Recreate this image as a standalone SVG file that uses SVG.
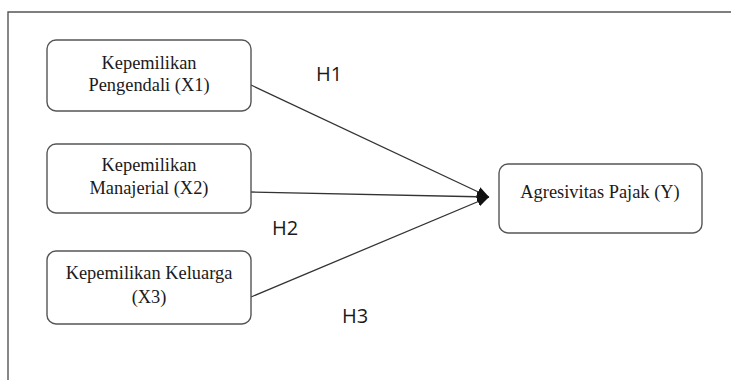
<svg xmlns="http://www.w3.org/2000/svg" width="731" height="380" viewBox="0 0 731 380">
<defs>
<style>
.box{fill:#fff;stroke:#555;stroke-width:1.4}
.t{font-family:"Liberation Serif","Times New Roman",serif;font-size:18.4px;fill:#1a1a1a;text-anchor:middle}
.h{font-family:"Open Sans","Liberation Sans",sans-serif;font-size:20px;fill:#1a1a1a}
.c{stroke:#333;stroke-width:1.3;fill:none;marker-end:url(#ah)}
.frame{stroke:#555;stroke-width:1.4;fill:none}
</style>
<marker id="ah" markerWidth="12" markerHeight="10" refX="12" refY="5" orient="auto" markerUnits="userSpaceOnUse">
<path d="M0,0 L12,5 L0,10 Z" fill="#111"/>
</marker>
</defs>
<rect width="731" height="380" fill="#fff"/>
<path class="frame" d="M8,380 L8,12 L731,12"/>
<g id="connectors">
<line class="c" x1="251" y1="85" x2="489" y2="197"/>
<line class="c" x1="251" y1="192" x2="489" y2="197"/>
<line class="c" x1="251" y1="297" x2="489" y2="197"/>
</g>
<g id="x1">
<rect class="box" x="47" y="40" width="204" height="71" rx="9"/>
<text class="t" x="149" y="69">Kepemilikan</text>
<text class="t" x="149" y="91">Pengendali (X1)</text>
</g>
<g id="x2">
<rect class="box" x="47" y="144" width="204" height="69" rx="9"/>
<text class="t" x="149" y="171">Kepemilikan</text>
<text class="t" x="149" y="194">Manajerial (X2)</text>
</g>
<g id="x3">
<rect class="box" x="47" y="251" width="204" height="73" rx="9"/>
<text class="t" x="149" y="279">Kepemilikan Keluarga</text>
<text class="t" x="149" y="303">(X3)</text>
</g>
<g id="y">
<rect class="box" x="499" y="164" width="203" height="69" rx="9"/>
<text class="t" x="600" y="198">Agresivitas Pajak (Y)</text>
</g>
<g id="labels">
<text class="h" x="316" y="81">H1</text>
<text class="h" x="272" y="235">H2</text>
<text class="h" x="342" y="323">H3</text>
</g>
</svg>
